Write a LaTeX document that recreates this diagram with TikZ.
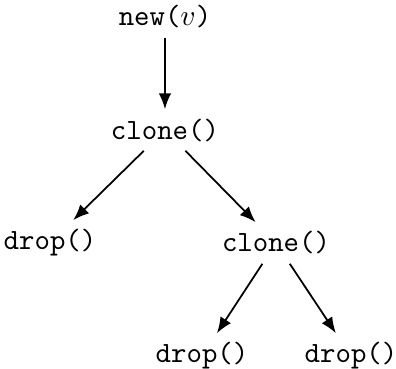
\documentclass[tikz,border=0pt]{standalone}
\usepackage{amsmath}
\usepackage{tikz}
\usetikzlibrary{arrows.meta,positioning}

\begin{document}
\begin{tikzpicture}[
  op/.style={font=\ttfamily, inner sep=3pt},
  ar/.style={-{Latex[length=1.9mm,width=1.5mm]}, line width=0.6pt}]

\useasboundingbox (0,0) rectangle (4.736,-4.413);

% ownership tree
\node[op] (new)  at (1.973,-0.203) {new($v$)};
\node[op] (cl1)  at (1.973,-1.555) {clone()};
\node[op] (dr1)  at (0.598,-2.906) {drop()};
\node[op] (cl2)  at (3.301,-2.906) {clone()};
\node[op] (dr2)  at (2.416,-4.258) {drop()};
\node[op] (dr3)  at (4.198,-4.258) {drop()};

\draw[ar] (new) -- (cl1);
\draw[ar] (cl1) -- (dr1);
\draw[ar] (cl1) -- (cl2);
\draw[ar] (cl2) -- (dr2);
\draw[ar] (cl2) -- (dr3);
\end{tikzpicture}
\end{document}
